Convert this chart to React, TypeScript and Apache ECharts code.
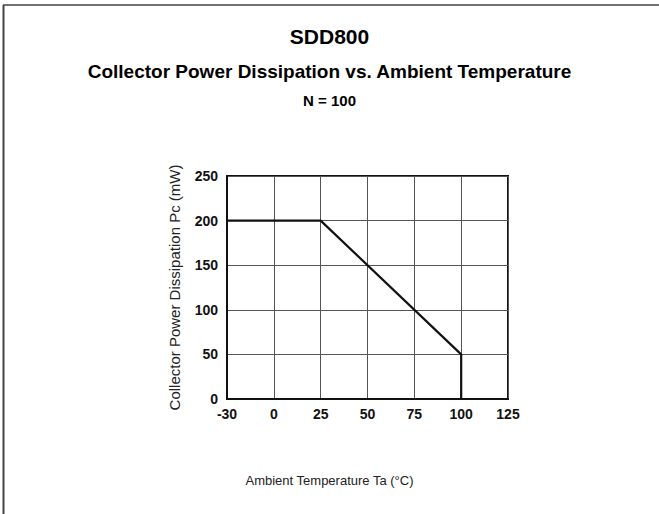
import React, { useEffect, useRef } from "react";
import * as echarts from "echarts";

const temperatureTicks = ["-30", "0", "25", "50", "75", "100", "125"];
const curveTemps = ["-30", "25", "100", "100"];
const curvePower = [200, 200, 50, 0];
const powerMin = 0;
const powerMax = 250;
const powerStep = 50;

const chartTitle = "SDD800";
const chartSubtitle = "Collector Power Dissipation vs. Ambient Temperature";
const chartNote = "N = 100";
const xTitle = "Ambient Temperature Ta (°C)";
const yTitle = "Collector Power Dissipation Pc (mW)";

const tickFont = "'Liberation Sans Narrow', 'Liberation Sans', Arial, sans-serif";
const textFont = "'Liberation Sans', Arial, sans-serif";

export default function App() {
  const ref = useRef<HTMLDivElement>(null);
  useEffect(() => {
    const chart = echarts.init(ref.current!, null, { renderer: "svg" });
    chart.setOption({
      animation: false,
      backgroundColor: "#ffffff",
      title: [
        {
          text: chartTitle,
          left: "center",
          top: 21,
          textStyle: { fontFamily: textFont, fontSize: 21, fontWeight: "bold", color: "#000" },
        },
        {
          text: chartSubtitle,
          left: "center",
          top: 57,
          textStyle: { fontFamily: textFont, fontSize: 19, fontWeight: "bold", color: "#000" },
        },
        {
          text: chartNote,
          left: "center",
          top: 88,
          textStyle: { fontFamily: textFont, fontSize: 15, fontWeight: "bold", color: "#000" },
        },
        {
          text: xTitle,
          left: "center",
          top: 469,
          textStyle: { fontFamily: textFont, fontSize: 13, fontWeight: "normal", color: "#222" },
        },
      ],
      graphic: [
        { type: "line", shape: { x1: 3, y1: 5, x2: 659, y2: 5 }, style: { stroke: "#444", lineWidth: 1.5 } },
        { type: "line", shape: { x1: 3.5, y1: 5, x2: 3.5, y2: 514 }, style: { stroke: "#444", lineWidth: 2 } },
      ],
      grid: {
        left: 227,
        right: 151,
        top: 176,
        bottom: 115,
        show: true,
        borderColor: "#111",
        borderWidth: 2,
        backgroundColor: "transparent",
      },
      xAxis: {
        type: "category",
        data: temperatureTicks,
        boundaryGap: false,
        axisLine: { show: true, lineStyle: { color: "#111", width: 2 } },
        axisTick: { show: false },
        axisLabel: {
          interval: 0,
          margin: 8,
          fontFamily: tickFont,
          fontWeight: "bold",
          fontSize: 14,
          color: "#111",
        },
        splitLine: { show: true, interval: 0, lineStyle: { color: "#555", width: 1 } },
      },
      yAxis: {
        type: "value",
        min: powerMin,
        max: powerMax,
        interval: powerStep,
        name: yTitle,
        nameLocation: "middle",
        nameGap: 45,
        nameTextStyle: { fontFamily: textFont, fontSize: 15, color: "#222" },
        axisLine: { show: true, lineStyle: { color: "#111", width: 2 } },
        axisTick: { show: false },
        axisLabel: {
          margin: 9,
          fontFamily: tickFont,
          fontWeight: "bold",
          fontSize: 14,
          color: "#111",
        },
        splitLine: { show: true, lineStyle: { color: "#555", width: 1 } },
      },
      series: [
        {
          type: "line",
          data: curveTemps.map((t, i) => [t, curvePower[i]]),
          symbol: "none",
          lineStyle: { color: "#111", width: 2.2 },
        },
      ],
    });
    return () => chart.dispose();
  }, []);
  return (
    <div
      ref={ref}
      style={{ position: "absolute", left: 0, top: 0, width: 659, height: 514, background: "#fff" }}
    />
  );
}
